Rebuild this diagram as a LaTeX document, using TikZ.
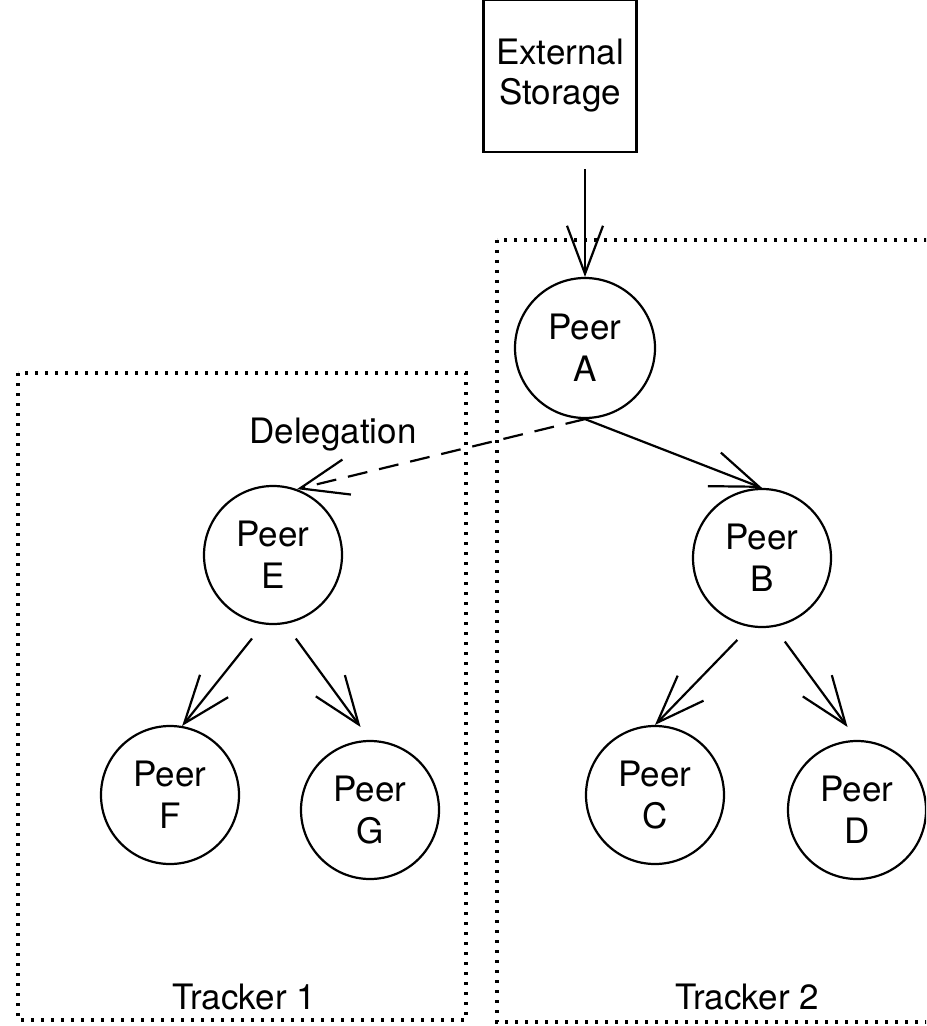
\documentclass[tikz,border=0pt]{standalone}
\usepackage{fontspec}
\setmainfont{TeX Gyre Heros}
\usetikzlibrary{arrows.meta, positioning}

\begin{document}
\begin{tikzpicture}[x=0.5pt, y=-0.5pt,
    font=\fontsize{17.5}{21}\selectfont,
    >={Straight Barb[length=24pt, width=18pt]},
    peer/.style={draw, circle, line width=1.1pt, minimum size=69pt, inner sep=0pt, align=center},
    link/.style={->, line width=1.1pt},
    tracker/.style={line width=1.6pt, dash pattern=on 1.6pt off 3.4pt}]
    \clip (0,0) rectangle (926,1026);

    % Tracker areas
    \draw[tracker] (18,373) rectangle (466,1020);
    \draw[tracker] (497,240) rectangle (940,1022);
    \node (trackA) at (244,997) {Tracker 1};
    \node (trackB) at (747,997) {Tracker 2};

    % Storage
    \node[draw, line width=1.1pt, minimum width=76.5pt, minimum height=76pt, align=center,
        font=\fontsize{17.5}{20}\selectfont] (store) at (560,76) {External\\Storage};

    % Peers
    \node[peer, minimum size=70pt] (peerA) at (585,348) {Peer\\A};
    \node[peer] (peerB) at (762,558) {Peer\\B};
    \node[peer] (peerC) at (655,795) {Peer\\C};
    \node[peer] (peerD) at (857,810) {Peer\\D};
    \node[peer] (peerE) at (273,555) {Peer\\E};
    \node[peer] (peerF) at (170,795) {Peer\\F};
    \node[peer] (peerG) at (370,810) {Peer\\G};

    % Links
    \draw[link, shorten <=8pt] (peerA.north |- store.south) -- (peerA.north);
    \draw[link] (peerA.south) -- (peerB.north);
    \draw[link, dashed, dash pattern=on 10pt off 6pt] (peerA.south) -- (peerE.70);
    \node (deleg) at (333,435) {Delegation};

    \draw[link, shorten <=9pt] (peerE.262) -- (peerF.80);
    \draw[link, shorten <=9pt, shorten >=8pt] (peerE.280) -- (peerG.north);
    \draw[link, shorten <=9pt] (peerB.260) -- (peerC.north);
    \draw[link, shorten <=9pt, shorten >=8pt] (peerB.280) -- (peerD.north);
\end{tikzpicture}
\end{document}
